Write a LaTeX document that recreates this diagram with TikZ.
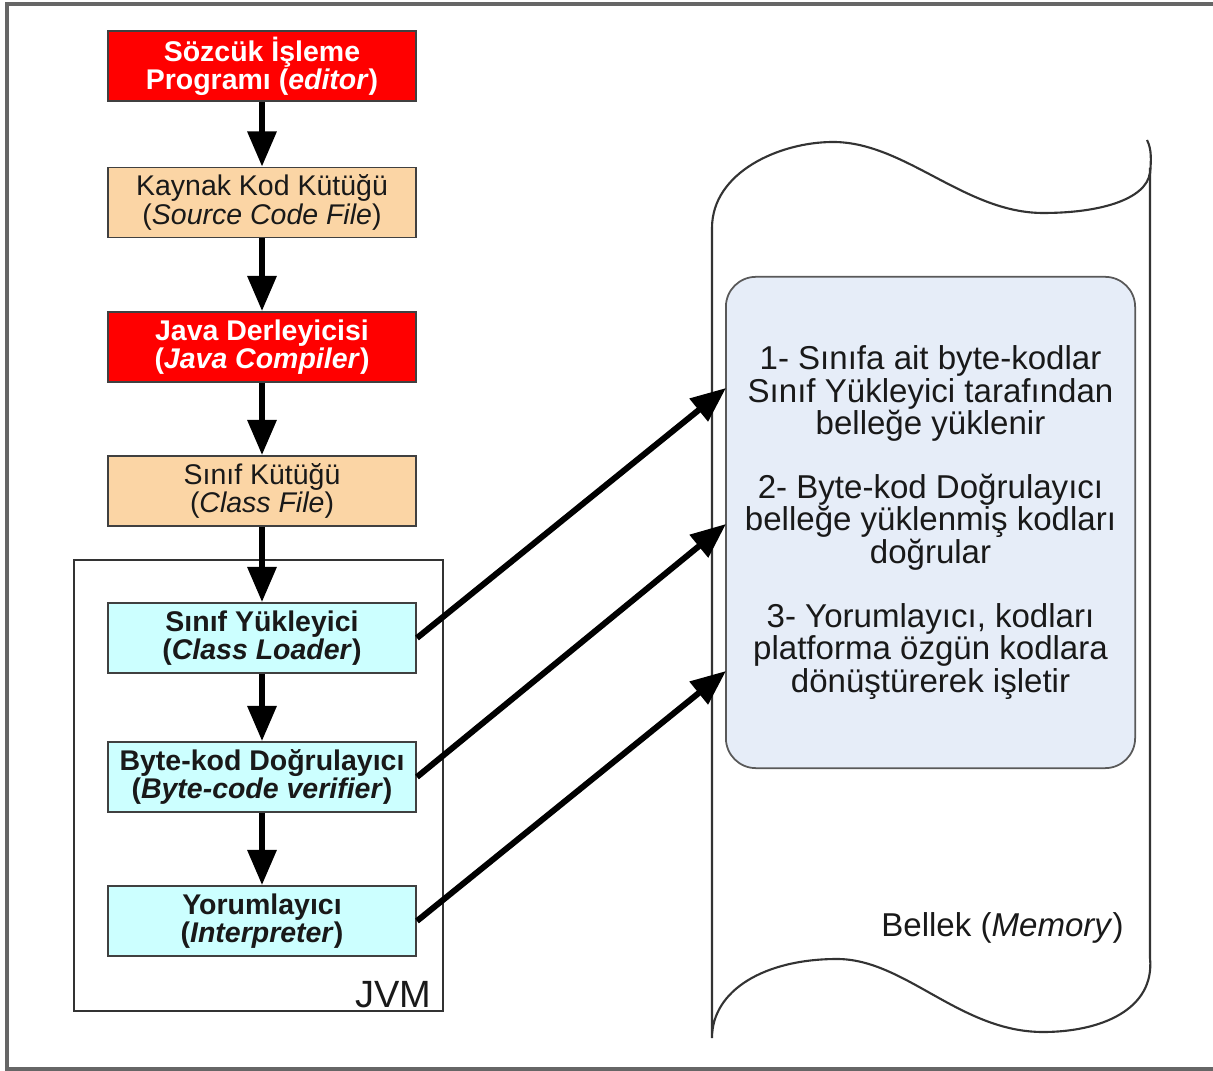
\documentclass[tikz,border=0pt]{standalone}
\usepackage{fontspec}
\setmainfont{Liberation Sans}
\usetikzlibrary{arrows.meta}
\definecolor{boxred}{HTML}{FF0000}
\definecolor{boxorange}{HTML}{FBD5A5}
\definecolor{boxcyan}{HTML}{CCFFFF}
\definecolor{memfill}{HTML}{E6EDF8}
\begin{document}
\begin{tikzpicture}[x=0.01cm,y=-0.01cm,
  stage/.style={draw=black!75, line width=0.5pt, minimum width=3.08cm,
    minimum height=0.70cm, inner sep=0pt, align=center,
    font=\fontsize{8.1}{8}\selectfont},
  redstage/.style={stage, fill=boxred, text=white, font=\fontsize{8.1}{8}\selectfont\bfseries},
  filestage/.style={stage, fill=boxorange, text=black!90},
  jvmstage/.style={stage, fill=boxcyan, text=black!90, font=\fontsize{8.1}{8}\selectfont\bfseries},
  flow/.style={line width=1.7pt, -{Triangle[length=10pt,width=8pt]}},
  outline/.style={draw=black!80, line width=0.6pt}
]
\useasboundingbox (0,0) rectangle (1213,1071);
% page frame
\draw[black!60, line width=0.9pt] (7,4) rectangle (1230,1069);

% JVM enclosure
\node[outline, minimum width=3.69cm, minimum height=4.51cm, inner sep=0pt] (jvm) at (258.5,785.5) {};
\node[anchor=base east, inner sep=0pt, font=\fontsize{10.8}{11}\selectfont, text=black!90] (jvmlabel) at (432,1007) {JVM};

% memory scroll
\draw[outline]
  (712,228) .. controls (712,172) and (780,142) .. (833,142)
  .. controls (905,142) and (965,213) .. (1043,213)
  .. controls (1110,213) and (1152,195) .. (1150,168);
\draw[outline]
  (1147,140) .. controls (1152,150) and (1151,160) .. (1150,176)
  -- (1150,958)
  .. controls (1155,1010) and (1100,1032) .. (1043,1032)
  .. controls (960,1032) and (905,959) .. (837,959)
  .. controls (765,959) and (712,990) .. (712,1038)
  -- (712,228);
\node[anchor=base, inner sep=0pt, font=\fontsize{9.4}{9.4}\selectfont, text=black!90] (memlabel) at (1002.5,936) {Bellek (\textit{Memory})};

% memory contents
\node[draw=black!65, line width=0.5pt, fill=memfill, rounded corners=0.3cm,
  minimum width=4.09cm, minimum height=4.91cm, inner sep=0pt, align=center,
  font=\fontsize{9.4}{9.16}\selectfont, text=black!90] (mem) at (930.5,522.5)
  {1- Sınıfa ait byte-kodlar\\Sınıf Yükleyici tarafından\\belleğe yüklenir\\[9.16pt]
   2- Byte-kod Doğrulayıcı\\belleğe yüklenmiş kodları\\doğrular\\[9.16pt]
   3- Yorumlayıcı, kodları\\platforma özgün kodlara\\dönüştürerek işletir};
\coordinate (m1) at (726,388);
\coordinate (m2) at (726,524);
\coordinate (m3) at (726,671);

% pipeline stages
\node[redstage] (editor) at (262,66) {Sözcük İşleme\\Programı (\textit{editor})};
\node[filestage] (source) at (262,202.5) {Kaynak Kod Kütüğü\\(\textit{Source Code File})};
\node[redstage] (compiler) at (262,347) {Java Derleyicisi\\(\textit{Java Compiler})};
\node[filestage] (classfile) at (262,491) {Sınıf Kütüğü\\(\textit{Class File})};
\node[jvmstage] (loader) at (262,638) {Sınıf Yükleyici\\(\textit{Class Loader})};
\node[jvmstage] (verifier) at (262,777) {Byte-kod Doğrulayıcı\\(\textit{Byte-code verifier})};
\node[jvmstage] (interp) at (262,921) {Yorumlayıcı\\(\textit{Interpreter})};

% flow between stages
\draw[flow] (editor) -- (source);
\draw[flow] (source) -- (compiler);
\draw[flow] (compiler) -- (classfile);
\draw[flow] (classfile) -- (loader);
\draw[flow] (loader) -- (verifier);
\draw[flow] (verifier) -- (interp);

% stages acting on memory
\draw[flow] (loader.east) -- (m1);
\draw[flow] (verifier.east) -- (m2);
\draw[flow] (interp.east) -- (m3);
\end{tikzpicture}
\end{document}
